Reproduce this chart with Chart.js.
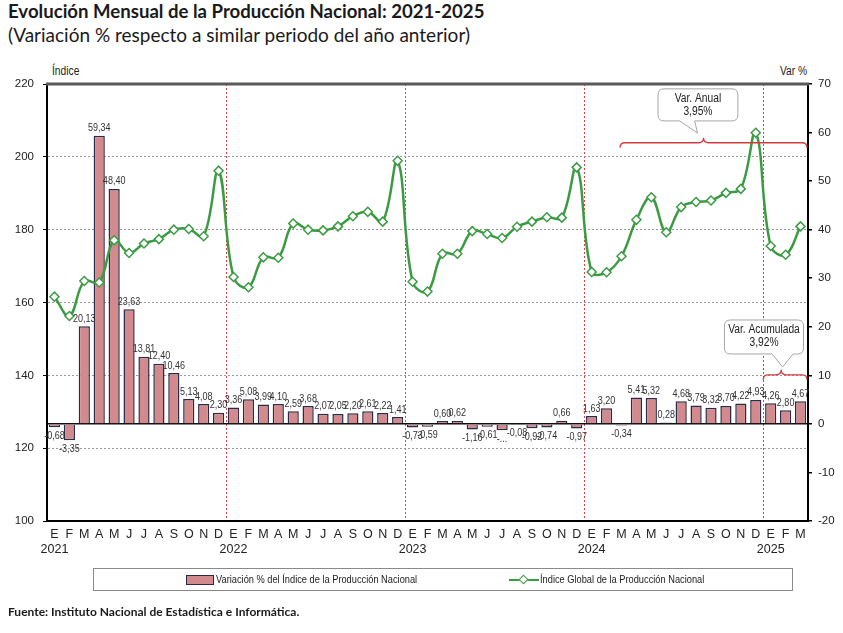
<!DOCTYPE html>
<html>
<head>
<meta charset="utf-8">
<script src="https://cdn.jsdelivr.net/npm/chart.js@4.4.0/dist/chart.umd.min.js"></script>
<style>
  body { margin: 0; background: #fff; width: 843px; height: 633px; overflow: hidden; position: relative; font-family: Lato, "Open Sans", sans-serif; color: #1a1a1a; }
  #coronitaChart { position: absolute; left: 0; top: 0; }
  .title { position: absolute; left: 8px; top: 0px; font-weight: bold; font-size: 18.6px; white-space: nowrap; }
  .subtitle { position: absolute; left: 8px; top: 23px; font-size: 19px; white-space: nowrap; }
  .nar { font-family: "Liberation Sans", Arial, sans-serif; transform: scaleX(0.82); transform-origin: 0 0; white-space: nowrap; }
  .axt { position: absolute; top: 64px; font-size: 12.5px; color: #222; }
  .legend { position: absolute; left: 93px; top: 568px; width: 698px; height: 21px; border: 1px solid #8a8a8a; font-size: 11.3px; color: #222; }
  .legend span { position: absolute; top: 4px; }
  .sw { position: absolute; left: 92px; top: 6px; width: 26px; height: 8px; background: #d38a8c; border: 1px solid #2a2a4a; }
  .ln { position: absolute; left: 415px; top: 10px; width: 30px; height: 2px; background: #3b9b43; }
  .dm { position: absolute; left: 426px; top: 7px; width: 5px; height: 5px; background: #fff; border: 1.5px solid #3b9b43; transform: rotate(45deg); }
  .source { position: absolute; left: 8px; top: 604px; font-weight: bold; font-size: 12px; white-space: nowrap; }
</style>
</head>
<body>
<div class="title">Evolución Mensual de la Producción Nacional: 2021-2025</div>
<div class="subtitle">(Variación % respecto a similar periodo del año anterior)</div>
<div class="axt nar" style="left:52px">Índice</div>
<div class="axt nar" style="left:780px">Var %</div>
<canvas id="coronitaChart" width="843" height="633"></canvas>
<div class="legend">
  <div class="sw"></div><span class="nar" style="left:122px">Variación % del Índice de la Producción Nacional</span>
  <div class="ln"></div><div class="dm"></div><span class="nar" style="left:446px">Índice Global de la Producción Nacional</span>
</div>
<div class="source">Fuente: Instituto Nacional de Estadística e Informática.</div>

<script>
var monthLetters = ["E", "F", "M", "A", "M", "J", "J", "A", "S", "O", "N", "D"];
var years = ["2021", "2022", "2023", "2024", "2025"];
var monthsShown = 51;

// Variación % del Índice de la Producción Nacional (eje derecho)
var varPct = [
  -0.68, -3.35, 20.13, 59.34, 48.40, 23.63, 13.81, 12.40, 10.46, 5.13, 4.08, 2.30,
  3.36, 5.08, 3.99, 4.10, 2.59, 3.68, 2.07, 2.05, 2.20, 2.61, 2.22, 1.41,
  -0.73, -0.59, 0.60, 0.62, -1.16, -0.61, -1.29, -0.08, -0.92, -0.74, 0.66, -0.97,
  1.63, 3.20, -0.34, 5.41, 5.32, 0.28, 4.68, 3.79, 3.32, 3.70, 4.22, 4.93,
  4.26, 2.80, 4.67
];

// Índice Global de la Producción Nacional (eje izquierdo)
var indice = [
  161.6, 156.3, 165.9, 165.5, 177.1, 173.6, 176.2, 177.4, 180.0, 180.2, 178.2, 196.2,
  167.0, 164.2, 172.4, 172.3, 181.7, 180.0, 179.8, 180.9, 183.7, 184.9, 182.2, 198.9,
  165.7, 163.0, 173.4, 173.4, 179.6, 178.8, 177.7, 180.8, 182.2, 183.4, 183.3, 197.1,
  168.4, 168.3, 172.7, 182.7, 188.9, 179.3, 186.2, 187.6, 188.0, 190.1, 191.2, 206.6,
  175.5, 173.1, 180.9
];

// the label of Jul 2023 is cut in the original
var labelOverride = { 30: "-..." };

var varAnual = "3,95%";
var varAcumulada = "3,92%";

var sans = '"Liberation Sans", Arial, sans-serif';

document.addEventListener("DOMContentLoaded", function startWebApp(iEvent) {
  start();
});

function start() {
  var labels = [];
  for (var i = 0; i < monthsShown; i++) {
    if (i % 12 == 0) labels.push([monthLetters[0], years[i / 12]]);
    else labels.push(monthLetters[i % 12]);
  }
  renderChart(labels);
}

function fmt(v) {
  return v.toFixed(2).replace(".", ",");
}

// Arial Narrow is not there, so squeeze Arial-like text
function narrowText(ctx, txt, x, y) {
  ctx.save();
  ctx.translate(x, y);
  ctx.scale(0.82, 1);
  ctx.fillText(txt, 0, 0);
  ctx.restore();
}

function brace(ctx, x1, x2, y, xm) {
  var h = 5;
  ctx.beginPath();
  ctx.moveTo(x1, y + h);
  ctx.quadraticCurveTo(x1, y, x1 + h, y);
  ctx.lineTo(xm - h, y);
  ctx.quadraticCurveTo(xm, y, xm, y - h);
  ctx.quadraticCurveTo(xm, y, xm + h, y);
  ctx.lineTo(x2 - h, y);
  ctx.quadraticCurveTo(x2, y, x2, y + h);
  ctx.stroke();
}

function callout(ctx, x1, y1, x2, y2, pb1, pb2, tx, ty, lines) {
  var r = 6;
  ctx.beginPath();
  ctx.moveTo(x1 + r, y1);
  ctx.lineTo(x2 - r, y1);
  ctx.quadraticCurveTo(x2, y1, x2, y1 + r);
  ctx.lineTo(x2, y2 - r);
  ctx.quadraticCurveTo(x2, y2, x2 - r, y2);
  ctx.lineTo(pb2, y2);
  ctx.lineTo(tx, ty);
  ctx.lineTo(pb1, y2);
  ctx.lineTo(x1 + r, y2);
  ctx.quadraticCurveTo(x1, y2, x1, y2 - r);
  ctx.lineTo(x1, y1 + r);
  ctx.quadraticCurveTo(x1, y1, x1 + r, y1);
  ctx.closePath();
  ctx.fillStyle = "#fff";
  ctx.fill();
  ctx.strokeStyle = "#a6a6a6";
  ctx.lineWidth = 1;
  ctx.stroke();
  ctx.fillStyle = "#222";
  ctx.font = "12.5px " + sans;
  ctx.textAlign = "center";
  ctx.textBaseline = "middle";
  var cx = (x1 + x2) / 2;
  narrowText(ctx, lines[0], cx, y1 + 10);
  narrowText(ctx, lines[1], cx, y1 + 23);
}

var extras = {
  id: "extras",
  afterDraw: function(chart) {
    var ctx = chart.ctx;
    var area = chart.chartArea;
    var xs = chart.scales.x;
    var y1 = chart.scales.y1;

    // top frame line
    ctx.save();
    ctx.strokeStyle = "#595959";
    ctx.lineWidth = 3;
    ctx.beginPath();
    ctx.moveTo(area.left - 1, area.top);
    ctx.lineTo(area.right + 1, area.top);
    ctx.stroke();

    // bar value labels
    var meta = chart.getDatasetMeta(0);
    ctx.font = "11px " + sans;
    ctx.fillStyle = "#333";
    ctx.textAlign = "center";
    meta.data.forEach(function(bar, i) {
      var v = varPct[i];
      var txt = labelOverride[i] || fmt(v);
      if (v >= 0) {
        ctx.textBaseline = "bottom";
        narrowText(ctx, txt, bar.x, bar.y - 2);
      } else {
        ctx.textBaseline = "top";
        narrowText(ctx, txt, bar.x, bar.y + 3);
      }
    });

    // braces
    ctx.strokeStyle = "#d43c3c";
    ctx.lineWidth = 1.3;
    brace(ctx, xs.getPixelForValue(37.9), area.right - 1, y1.getPixelForValue(57.9), xs.getPixelForValue(43.5));
    brace(ctx, xs.getPixelForValue(47.5), area.right - 1, y1.getPixelForValue(10.1), xs.getPixelForValue(48.7));

    // callouts
    callout(ctx,
      xs.getPixelForValue(40.45), y1.getPixelForValue(69.0),
      xs.getPixelForValue(45.8), y1.getPixelForValue(62.4),
      xs.getPixelForValue(41.9), xs.getPixelForValue(42.9),
      xs.getPixelForValue(43.1), y1.getPixelForValue(59.9),
      ["Var. Anual", varAnual]);
    callout(ctx,
      xs.getPixelForValue(44.9), y1.getPixelForValue(21.4),
      xs.getPixelForValue(50.2), y1.getPixelForValue(14.4),
      xs.getPixelForValue(48.1), xs.getPixelForValue(49.5),
      xs.getPixelForValue(48.8), y1.getPixelForValue(11.7),
      ["Var. Acumulada", varAcumulada]);
    ctx.restore();
  }
};

function renderChart(labels) {
  var ctx = document.getElementById("coronitaChart").getContext("2d");
  var myChart = new Chart(ctx, {
    type: "bar",
    data: {
      labels: labels,
      datasets: [
        {
          type: "bar",
          label: "Variación % del Índice de la Producción Nacional",
          data: varPct,
          yAxisID: "y1",
          backgroundColor: "#d38a8c",
          borderColor: "#2a2a4a",
          borderWidth: 1.5,
          categoryPercentage: 0.75,
          barPercentage: 1,
          order: 1
        },
        {
          type: "line",
          label: "Índice Global de la Producción Nacional",
          data: indice,
          yAxisID: "y",
          borderColor: "#3b9b43",
          borderWidth: 2.5,
          tension: 0.4,
          pointStyle: "rectRot",
          pointRadius: 4.5,
          pointBackgroundColor: "#fff",
          pointBorderColor: "#3b9b43",
          pointBorderWidth: 1.5,
          fill: false,
          order: 0
        }
      ]
    },
    options: {
      responsive: false,
      animation: false,
      layout: { padding: { left: 0, right: 0, top: 84, bottom: 72 } },
      plugins: {
        legend: { display: false },
        tooltip: { enabled: false }
      },
      scales: {
        x: {
          afterFit: function(s) { s.height = 40; },
          grid: {
            offset: true,
            drawTicks: false,
            lineWidth: 1,
            color: function(c) { return (c.index % 12 == 0 && c.index > 0) ? "#e04040" : "rgba(0,0,0,0)"; }
          },
          border: { display: true, color: "#000", width: 2, dash: [2, 2] },
          ticks: {
            autoSkip: false,
            maxRotation: 0,
            padding: 6,
            color: "#222",
            font: { family: sans, size: 12.5, lineHeight: 1.2 }
          }
        },
        y: {
          position: "left",
          min: 100,
          max: 220,
          afterFit: function(s) { s.width = 47; },
          ticks: { stepSize: 20, padding: 9, color: "#222", font: { family: sans, size: 11.5 } },
          grid: {
            tickLength: 4,
            tickColor: "#000",
            color: function(c) { return (c.tick.value > 100 && c.tick.value < 220) ? "#9a9a9a" : "rgba(0,0,0,0)"; }
          },
          border: { display: true, color: "#000", width: 2, dash: [2, 2] }
        },
        y1: {
          position: "right",
          min: -20,
          max: 70,
          afterFit: function(s) { s.width = 35; },
          ticks: { stepSize: 10, padding: 6, color: "#222", font: { family: sans, size: 11.5 } },
          grid: {
            tickLength: 4,
            tickColor: "#000",
            lineWidth: 1.5,
            color: function(c) { return c.tick.value == 0 ? "#111" : "rgba(0,0,0,0)"; }
          },
          border: { display: true, color: "#000", width: 2 }
        }
      }
    },
    plugins: [extras]
  });
}
</script>
</body>
</html>
